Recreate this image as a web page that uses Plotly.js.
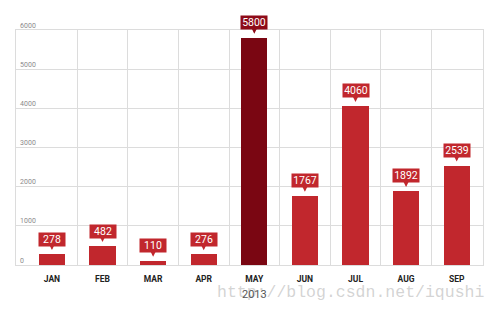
<!DOCTYPE html>
<html>
<head>
<meta charset="utf-8">
<script src="https://cdn.plot.ly/plotly-3.0.1.min.js"></script>
<style>html,body{margin:0;padding:0;background:#fff;}#chart{width:500px;height:311px;}</style>
</head>
<body>
<div id="chart"></div>
<script>
var months = ["JAN","FEB","MAR","APR","MAY","JUN","JUL","AUG","SEP"];
var values = [278, 482, 110, 276, 5800, 1767, 4060, 1892, 2539];
var highlightMonth = "MAY";
var yearLabel = "2013";
var yTicks = [0, 1000, 2000, 3000, 4000, 5000, 6000];
var watermark = "http://blog.csdn.net/iqushi";

var RED = "#c1272d", DARK = "#7a0612", DARKBOX = "#8e0b18";
var idx = months.map(function(m, i){ return i; });
var colors = months.map(function(m){ return m === highlightMonth ? DARK : RED; });
var boundaries = idx.slice(0, -1).map(function(i){ return i + 0.5; });
var xr = [-0.71, 8.52];

var traces = [
  {type: "bar", x: idx, y: values, width: 0.52, marker: {color: colors, line: {width: 0}},
   hoverinfo: "skip", xaxis: "x", yaxis: "y"},
  {type: "scatter", mode: "none", x: idx, y: values, xaxis: "x2", yaxis: "y", hoverinfo: "skip", showlegend: false}
];

var annotations = [];
annotations.push({x: 0.717, y: -0.119, xref: "paper", yref: "paper", text: watermark, showarrow: false,
  font: {family: "Liberation Mono, monospace", size: 16.5, color: "rgba(175,175,175,0.55)"}, xanchor: "center", yanchor: "middle"});
months.forEach(function(m, i){
  var bg = m === highlightMonth ? DARKBOX : RED;
  annotations.push({x: i, y: values[i], xref: "x", yref: "y", text: String(values[i]),
    showarrow: true, arrowhead: 2, arrowsize: 1.2, arrowwidth: 1, arrowcolor: bg,
    ax: 0, ay: -15, standoff: 4,
    bgcolor: bg, width: 26, height: 13, borderpad: 0,
    font: {family: "Roboto, sans-serif", size: 10.5, color: "#fff"}});
});
annotations.push({x: months.indexOf(highlightMonth), y: -0.125, xref: "x", yref: "paper", text: yearLabel, showarrow: false,
  font: {family: "Roboto, sans-serif", size: 11, color: "#555"}, xanchor: "center", yanchor: "middle"});

var layout = {
  width: 500, height: 311,
  margin: {l: 16, r: 17, t: 30, b: 46},
  paper_bgcolor: "#fff", plot_bgcolor: "#fff",
  showlegend: false, bargap: 0,
  xaxis: {type: "linear", range: xr, tickvals: idx, ticktext: months, showgrid: false, zeroline: false,
    showline: true, mirror: true, linecolor: "#dcdcdc", linewidth: 1,
    ticks: "", tickfont: {family: "Roboto, sans-serif", size: 8.5, color: "#222", weight: "bold"},
    ticklabelstandoff: 6, fixedrange: true},
  xaxis2: {type: "linear", overlaying: "x", range: xr, tickvals: boundaries, showticklabels: false,
    showgrid: true, gridcolor: "#dcdcdc", gridwidth: 1, zeroline: false, showline: false, ticks: ""},
  yaxis: {range: [0, 6000], tickvals: yTicks, ticktext: yTicks.map(String), showgrid: true, gridcolor: "#dcdcdc",
    gridwidth: 1, zeroline: false, showline: true, mirror: true, linecolor: "#dcdcdc", linewidth: 1,
    ticks: "", ticklabelposition: "inside top", ticklabelstandoff: 2, ticklabeloverflow: "allow",
    tickfont: {family: "Roboto, sans-serif", size: 7, color: "#8a8a8a"}, layer: "below traces"},
  annotations: annotations
};

Plotly.newPlot("chart", traces, layout, {staticPlot: true, displayModeBar: false});
</script>
</body>
</html>
